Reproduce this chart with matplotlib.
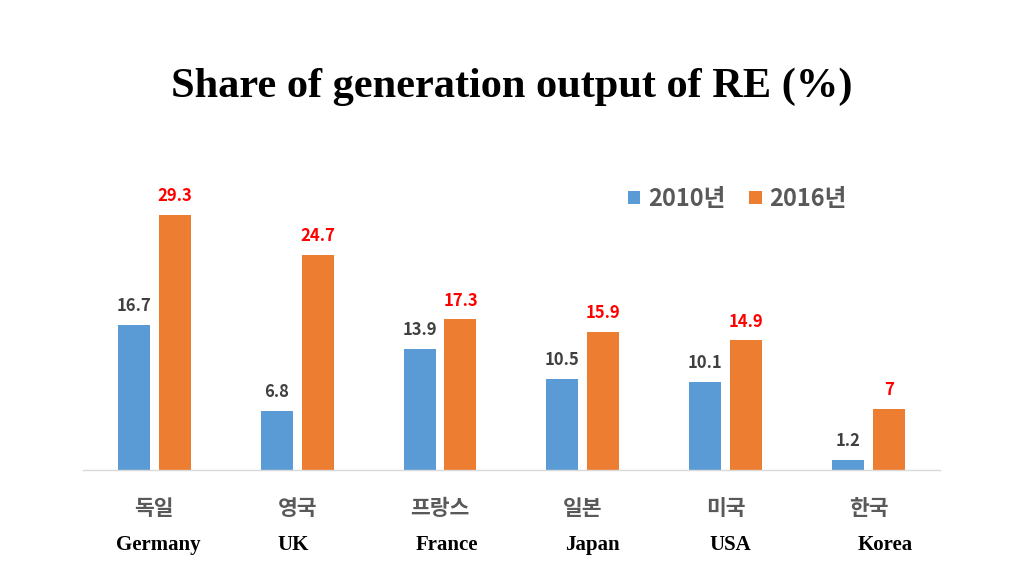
import numpy as np
import matplotlib.pyplot as plt
from matplotlib.transforms import offset_copy

# data
countries_kr = ['독일', '영국', '프랑스', '일본', '미국', '한국']
countries_en = ['Germany', 'UK', 'France', 'Japan', 'USA', 'Korea']
share_2010 = [16.7, 6.8, 13.9, 10.5, 10.1, 1.2]
share_2016 = [29.3, 24.7, 17.3, 15.9, 14.9, 7]
series_names = ['2010년', '2016년']

plt.rcParams['font.family'] = ['Noto Sans CJK KR', 'DejaVu Sans']

BLUE = '#5B9BD5'
ORANGE = '#ED7D31'
GRAY = '#595959'

fig = plt.figure(figsize=(10.24, 5.76), dpi=100)
ax = fig.add_axes([0.081, 0.184, 0.837, 0.5035])

x = np.arange(len(countries_kr))
w = 0.224
off = 0.143

ax.bar(x - off, share_2010, w, color=BLUE, label=series_names[0])
ax.bar(x + off, share_2016, w, color=ORANGE, label=series_names[1])

for xi, v in zip(x, share_2010):
    ax.text(xi - off, v + 1.1, f'{v:g}', ha='center', va='bottom',
            fontsize=12, color='#404040', fontweight='bold')
for xi, v in zip(x, share_2016):
    ax.text(xi + off, v + 1.1, f'{v:g}', ha='center', va='bottom',
            fontsize=12, color='#FF0000', fontweight='bold')

ax.set_xlim(-0.5, len(x) - 0.5)
ax.set_ylim(0, 33.3)
ax.set_yticks([])
ax.set_xticks(x)
ax.set_xticklabels(countries_kr, fontsize=15.5, color=GRAY, fontweight='bold')
ax.tick_params(axis='x', length=0, pad=20)
for s in ['top', 'right', 'left']:
    ax.spines[s].set_visible(False)
ax.spines['bottom'].set_color('#D9D9D9')
ax.spines['bottom'].set_linewidth(1)

# english names under the korean ones (slightly off-center like the original slide)
nudge_pt = [3, -3, 5, 6.5, 3.5, 12]
for xi, name, dx in zip(x, countries_en, nudge_pt):
    tr = offset_copy(ax.transData, fig=fig, x=dx, y=0, units='points')
    ax.text(xi, -8.6, name, ha='center', va='center', fontsize=15,
            fontweight='bold', family='Liberation Serif', color='black',
            transform=tr)

leg = ax.legend(loc='center left', bbox_to_anchor=(0.636, 0.935), ncol=2,
                frameon=False, fontsize=17, handlelength=0.52, handleheight=0.52,
                handletextpad=0.34, columnspacing=1.0, borderpad=0,
                borderaxespad=0)
for t in leg.get_texts():
    t.set_color(GRAY)
    t.set_fontweight('bold')

fig.text(0.5, 0.85, 'Share of generation output of RE (%)', ha='center',
         va='center', fontsize=30.5, fontweight='bold', family='Liberation Serif')

fig.savefig('out.png', dpi=100, facecolor='white')
